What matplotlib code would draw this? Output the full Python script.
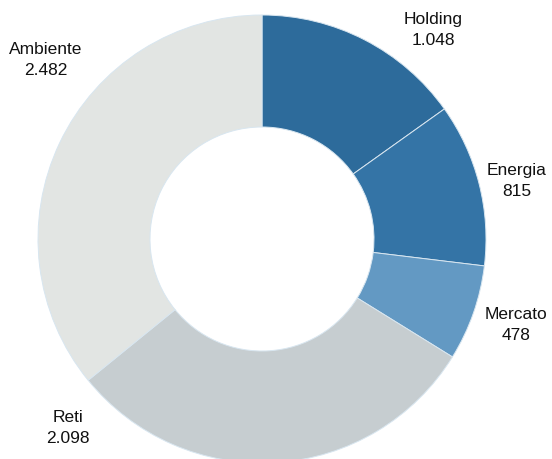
import numpy as np
import matplotlib
matplotlib.use('Agg')
from matplotlib import pyplot as plt

# dati (milioni di euro)
segmenti = ['Holding', 'Energia', 'Mercato', 'Reti', 'Ambiente']
valori = [1048, 815, 478, 2098, 2482]
etichette_valori = ['1.048', '815', '478', '2.098', '2.482']
colori = ['#2d6b9b', '#3474a6', '#6399c3', '#c6cdd0', '#e2e5e3']

plt.rcParams['font.family'] = ['Liberation Sans Narrow', 'Liberation Sans', 'DejaVu Sans']

W, H = 552, 459
fig = plt.figure(figsize=(W / 100, H / 100), dpi=100)

# centro e raggio della ciambella in pixel
cx, cy, r = 262, 239, 224
ax = fig.add_axes([(cx - r) / W, (H - cy - r) / H, 2 * r / W, 2 * r / H])
ax.pie(valori, colors=colori, startangle=90, counterclock=False,
       radius=1, wedgeprops=dict(width=0.5, edgecolor='#d8e6f0', linewidth=0.7))
ax.set_xlim(-1, 1)
ax.set_ylim(-1, 1)
ax.set_aspect('auto')
ax.axis('off')

# posizione delle etichette (pixel)
pos = {'Holding': (433, 30), 'Energia': (517, 181), 'Mercato': (516, 325),
       'Reti': (68, 428), 'Ambiente': (46, 60)}
for nome, lab in zip(segmenti, etichette_valori):
    x, y = pos[nome]
    fig.text(x / W, 1 - y / H, nome + '\n' + lab, ha='center', va='center',
             multialignment='center', fontsize=12.5, linespacing=1.45, color='#111111')

fig.savefig('out.png', dpi=100)
